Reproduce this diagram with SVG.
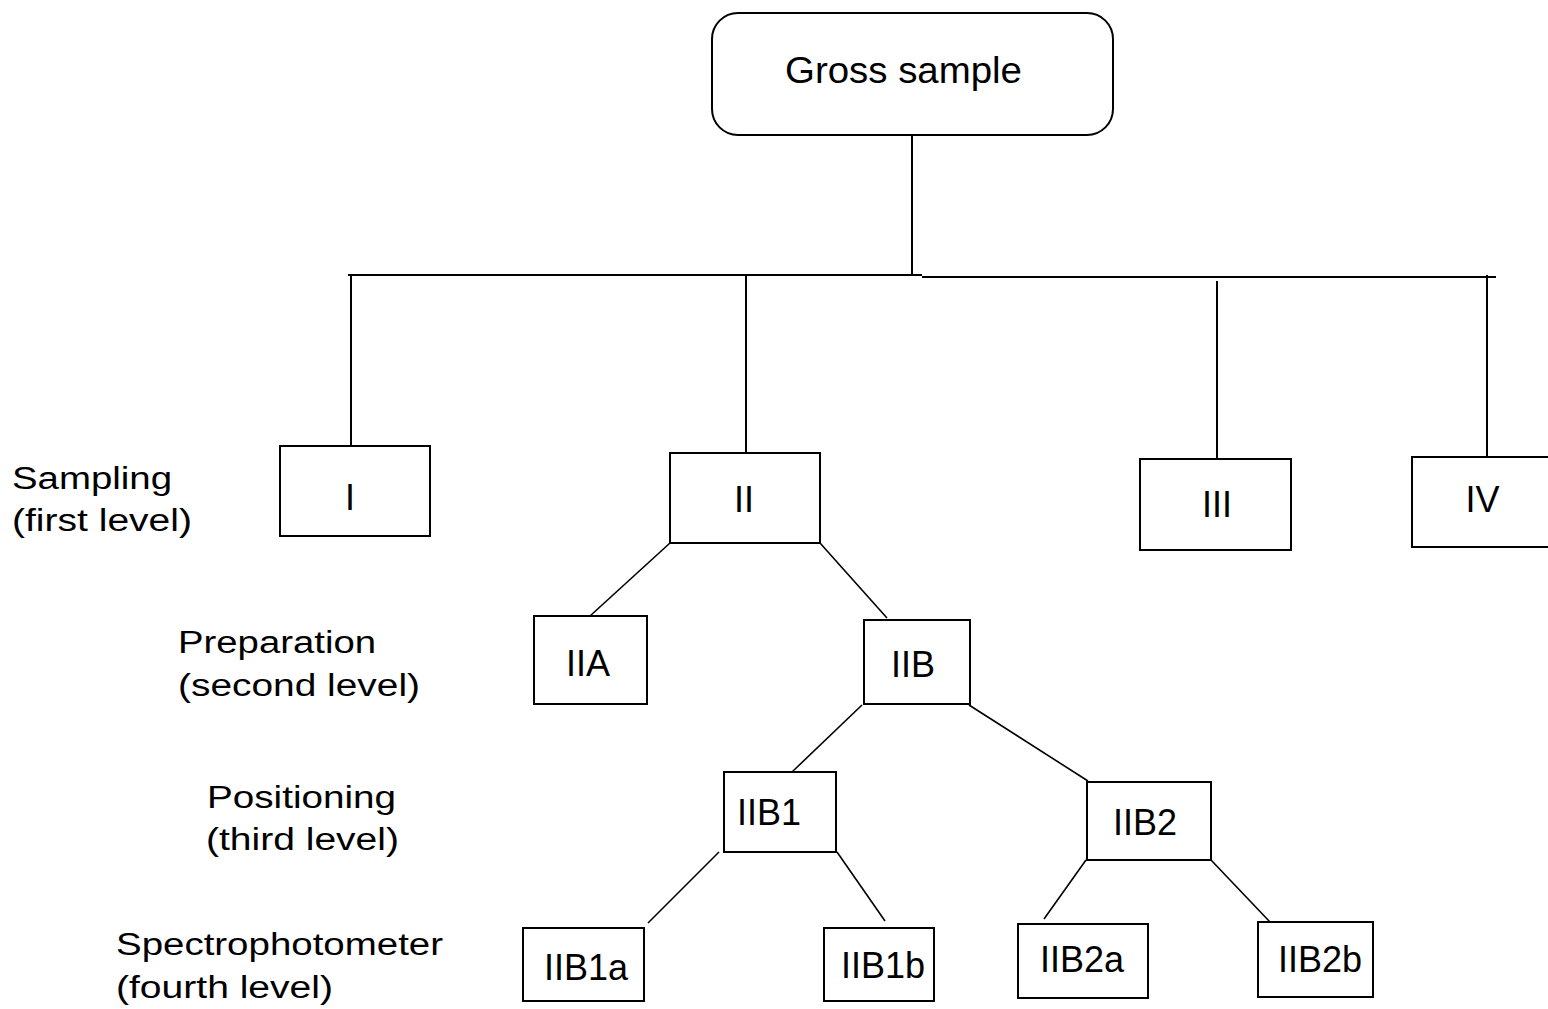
<svg xmlns="http://www.w3.org/2000/svg" width="1548" height="1009" viewBox="0 0 1548 1009">
<style>
.box{fill:#fff;stroke:#000;stroke-width:2}
.ln{stroke:#000;stroke-width:2;fill:none}
.dg{stroke:#000;stroke-width:1.6;fill:none}
.nt{font-family:"Liberation Sans",Arial,sans-serif;font-size:36px;fill:#000;text-anchor:middle}
.lb{font-family:"Liberation Sans",Arial,sans-serif;font-size:31px;fill:#000}
</style>
<rect width="1548" height="1009" fill="#fff"/>
<g id="connectors">
<line class="ln" x1="912" y1="135" x2="912" y2="276"/>
<line class="ln" x1="348" y1="275" x2="922" y2="275"/>
<line class="ln" x1="922" y1="277" x2="1496" y2="277"/>
<line class="ln" x1="351" y1="275" x2="351" y2="446"/>
<line class="ln" x1="746" y1="276" x2="746" y2="452"/>
<line class="ln" x1="1217" y1="281" x2="1217" y2="459"/>
<line class="ln" x1="1487" y1="275" x2="1487" y2="457"/>
<line class="dg" x1="670" y1="543" x2="590" y2="616"/>
<line class="dg" x1="820" y1="543" x2="887" y2="618"/>
<line class="dg" x1="862" y1="705" x2="792" y2="772"/>
<line class="dg" x1="969" y1="705" x2="1088" y2="781"/>
<line class="dg" x1="719" y1="852" x2="648" y2="923"/>
<line class="dg" x1="837" y1="852" x2="885" y2="921"/>
<line class="dg" x1="1086" y1="860" x2="1044" y2="919"/>
<line class="dg" x1="1211" y1="860" x2="1270" y2="922"/>
</g>
<g id="gross">
<rect class="box" x="712" y="13" width="401" height="122" rx="26" ry="26"/>
<text x="903.5" y="83" style="font-family:'Liberation Sans',Arial,sans-serif;font-size:36px;text-anchor:middle" textLength="237" lengthAdjust="spacingAndGlyphs">Gross sample</text>
</g>
<g id="n-I"><rect class="box" x="280" y="446" width="150" height="90"/><text class="nt" x="350" y="510">I</text></g>
<g id="n-II"><rect class="box" x="670" y="453" width="150" height="90"/><text class="nt" x="744" y="512">II</text></g>
<g id="n-III"><rect class="box" x="1140" y="459" width="151" height="91"/><text class="nt" x="1217" y="517">III</text></g>
<g id="n-IV"><rect class="box" x="1412" y="457" width="160" height="90"/><text class="nt" x="1482.5" y="512">IV</text></g>
<g id="n-IIA"><rect class="box" x="534" y="616" width="113" height="88"/><text class="nt" x="588" y="676">IIA</text></g>
<g id="n-IIB"><rect class="box" x="864" y="620" width="106" height="84"/><text class="nt" x="913" y="677">IIB</text></g>
<g id="n-IIB1"><rect class="box" x="724" y="772" width="112" height="80"/><text class="nt" x="769" y="825">IIB1</text></g>
<g id="n-IIB2"><rect class="box" x="1087" y="782" width="124" height="78"/><text class="nt" x="1145" y="835">IIB2</text></g>
<g id="n-IIB1a"><rect class="box" x="523" y="928" width="121" height="73"/><text class="nt" x="586" y="980">IIB1a</text></g>
<g id="n-IIB1b"><rect class="box" x="824" y="928" width="110" height="73"/><text class="nt" x="883" y="978">IIB1b</text></g>
<g id="n-IIB2a"><rect class="box" x="1018" y="924" width="130" height="74"/><text class="nt" x="1082" y="972">IIB2a</text></g>
<g id="n-IIB2b"><rect class="box" x="1258" y="922" width="115" height="75"/><text class="nt" x="1320" y="972">IIB2b</text></g>
<g id="labels">
<text class="lb" x="12" y="489" textLength="160" lengthAdjust="spacingAndGlyphs">Sampling</text>
<text class="lb" x="12" y="531" textLength="180" lengthAdjust="spacingAndGlyphs">(first level)</text>
<text class="lb" x="178" y="653" textLength="198" lengthAdjust="spacingAndGlyphs">Preparation</text>
<text class="lb" x="178" y="696" textLength="242" lengthAdjust="spacingAndGlyphs">(second level)</text>
<text class="lb" x="207" y="808" textLength="189" lengthAdjust="spacingAndGlyphs">Positioning</text>
<text class="lb" x="206" y="850" textLength="193" lengthAdjust="spacingAndGlyphs">(third level)</text>
<text class="lb" x="116" y="955" textLength="327" lengthAdjust="spacingAndGlyphs">Spectrophotometer</text>
<text class="lb" x="116" y="998" textLength="217" lengthAdjust="spacingAndGlyphs">(fourth level)</text>
</g>
</svg>
